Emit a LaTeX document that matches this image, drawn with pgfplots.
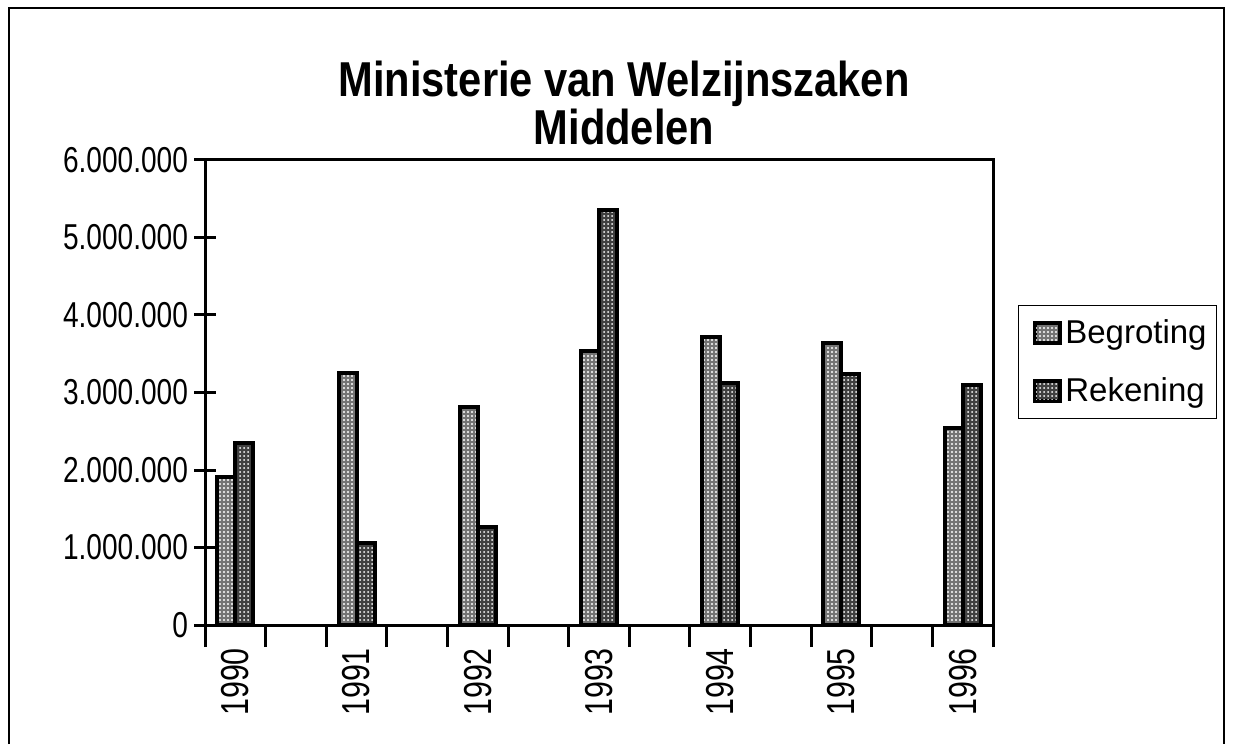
\documentclass[border=0pt]{standalone}
\usepackage{pgfplots}
\pgfplotsset{compat=1.18}
\usepackage{fontspec}
\setmainfont{Liberation Sans}[FakeStretch=0.85]
\newfontfamily\legfont{Liberation Sans}
\newfontfamily\tickfont{Liberation Sans}[FakeStretch=0.78]
\usetikzlibrary{patterns.meta}
\pgfplotsset{
  lightbar/.style={draw=black, line width=2pt, preaction={fill=black!55}, pattern={Dots[distance=2pt, radius=0.6pt]}, pattern color=white},
  darkbar/.style={draw=black, line width=2pt, preaction={fill=black!75}, pattern={Dots[distance=2pt, radius=0.5pt]}, pattern color=white},
}
\begin{document}
\begin{tikzpicture}
\useasboundingbox (0,0) rectangle (617.5pt,372pt);
\draw[line width=1pt] (4.5pt,0pt) -- (4.5pt,368pt) -- (612pt,368pt) -- (612pt,0pt);
\node[anchor=base, font=\fontsize{24.5}{29}\selectfont\bfseries] at (312pt,323.5pt) {Ministerie van Welzijnszaken};
\node[anchor=base, font=\fontsize{24.5}{29}\selectfont\bfseries] at (312pt,299.5pt) {Middelen};
\begin{axis}[
  at={(102.5pt,59.5pt)}, anchor=south west,
  scale only axis, width=394pt, height=232.5pt,
  xmin=-0.5, xmax=12.5, ymin=0, ymax=6000000,
  scaled y ticks=false,
  ytick={0,1000000,2000000,3000000,4000000,5000000,6000000},
  yticklabels={0,1.000.000,2.000.000,3.000.000,4.000.000,5.000.000,6.000.000},
  yticklabel style={font=\tickfont\fontsize{18}{20}\selectfont, xshift=0.5pt},
  xtick={-0.5,0.5,1.5,2.5,3.5,4.5,5.5,6.5,7.5,8.5,9.5,10.5,11.5,12.5},
  xticklabels={},
  extra x ticks={0,2,4,6,8,10,12},
  extra x tick labels={1990,1991,1992,1993,1994,1995,1996},
  extra x tick style={major tick length=0pt, tick label style={rotate=90, anchor=east, font=\tickfont\fontsize{19.5}{22}\selectfont, xshift=-8pt}},
  tick pos=left, tick align=center, major tick length=11pt,
  axis line style={line width=1.5pt},
  every tick/.style={line width=1.5pt, black},
  ybar=0pt, bar width=9pt,
  legend style={at={(1.032,0.688)}, anchor=north west, draw=black, line width=0.6pt,
    font=\legfont\fontsize{16.5}{19}\selectfont, row sep=11.5pt, inner xsep=3pt, inner ysep=5pt,
    cells={anchor=west}},
  legend image code/.code={\path (0pt,0pt); \draw[#1, line width=1.5pt] (4pt,-5pt) rectangle (16.5pt,5pt);},
]
\addplot[lightbar] coordinates {(0,1910000) (2,3250000) (4,2810000) (6,3540000) (8,3720000) (10,3640000) (12,2540000)};
\addplot[darkbar] coordinates {(0,2350000) (2,1060000) (4,1270000) (6,5350000) (8,3120000) (10,3240000) (12,3100000)};
\legend{Begroting,Rekening}
\end{axis}
\end{tikzpicture}
\end{document}
